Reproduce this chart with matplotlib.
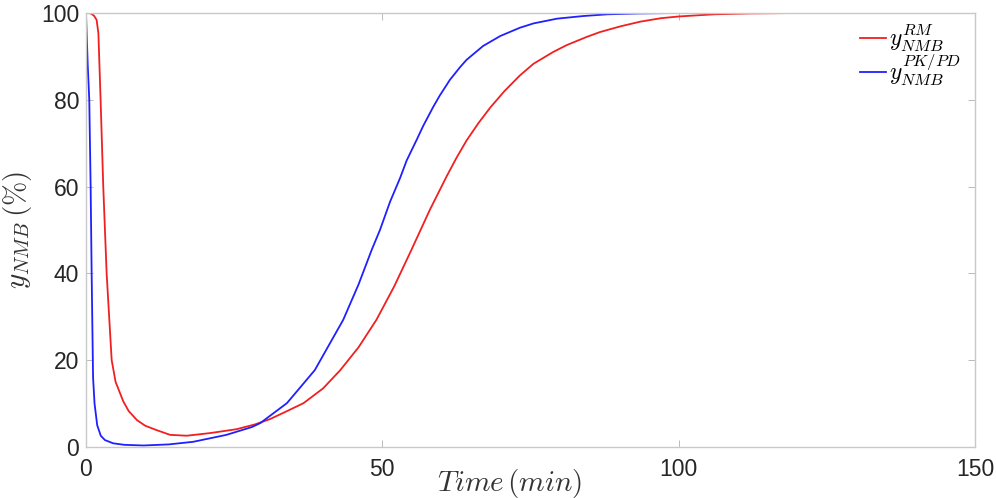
import matplotlib
matplotlib.use('Agg')
import matplotlib.pyplot as plt

# values
t_rm = [0, 0.5, 0.96, 1.4, 1.8, 2.1, 2.47, 2.92, 3.49, 4.34, 5.0, 6.3, 7.2,
        8.6, 10.0, 11.9, 14.2, 17.0, 20.9, 25.4, 28.5, 31.0, 33.5, 36.7,
        40.0, 42.9, 46.0, 49.0, 52.0, 54.9, 58.0, 60.9, 62.5, 64.2, 66.2,
        68.2, 70.6, 73.2, 75.5, 78.8, 81.1, 84.5, 86.7, 90.1, 93.5, 97.0,
        100.0, 106.0, 112.0, 120.0, 150.0]
y_rm = [100, 100, 99.8, 99.3, 98.4, 95.3, 80, 60, 40, 20, 15, 10.5, 8.3,
        6.2, 4.9, 3.9, 2.8, 2.6, 3.2, 4.1, 5.2, 6.4, 8.0, 10.1,
        13.5, 17.7, 23.0, 29.3, 37.0, 45.4, 54.6, 62.5, 66.6, 70.6, 74.6,
        78.2, 82.0, 85.6, 88.3, 91.0, 92.6, 94.5, 95.6, 96.9, 98.0, 98.8,
        99.2, 99.7, 99.9, 100, 100]

t_pkpd = [0, 0.3, 0.56, 0.79, 0.96, 1.2, 1.45, 1.9, 2.5, 3.2, 4.6, 6.5,
          9.7, 14.0, 18.1, 23.7, 28.0, 29.4, 33.9, 38.6, 43.4, 46.0, 48.2,
          49.6, 51.3, 53.0, 54.1, 55.8, 56.9, 58.6, 59.7, 61.4, 63.1, 64.2,
          67.0, 69.9, 73.2, 75.5, 79.5, 83.9, 88.0, 93.5, 100.0, 150.0]
y_pkpd = [100, 88, 80, 60, 40, 16, 10, 5, 2.6, 1.6, 0.85, 0.5,
          0.35, 0.6, 1.2, 2.8, 4.6, 5.5, 10.1, 17.7, 29.3, 37.5, 45.4,
          50.0, 56.5, 62.0, 66.0, 70.8, 74.0, 78.4, 81.0, 84.6, 87.5, 89.2,
          92.4, 94.7, 96.6, 97.6, 98.7, 99.3, 99.7, 99.9, 100, 100]

x_ticks = [0, 50, 100, 150]
y_ticks = [0, 20, 40, 60, 80, 100]

plt.rcParams['mathtext.fontset'] = 'cm'
plt.rcParams['font.family'] = ['Liberation Sans', 'DejaVu Sans']

fig = plt.figure(figsize=(9.96, 4.98), dpi=100)
ax = fig.add_axes([0.0863, 0.1024, 0.8927, 0.8715])

ax.plot(t_rm, y_rm, color='#f02020', lw=1.3, label=r'$y_{NMB}^{RM}$')
ax.plot(t_pkpd, y_pkpd, color='#2020ff', lw=1.3, label=r'$y_{NMB}^{PK/PD}$')

ax.set_xlim(0, 150)
ax.set_ylim(0, 100)
ax.set_xticks(x_ticks)
ax.set_yticks(y_ticks)
ax.tick_params(direction='in', length=5, width=0.6, color='#b0b0b0',
               labelsize=16.5, labelcolor='#262626', top=True, right=True)
ax.tick_params(axis='x', pad=8)
ax.tick_params(axis='y', pad=5)
for s in ax.spines.values():
    s.set_color('#c8c8c8')
    s.set_linewidth(1.0)

ax.set_xlabel(r'$Time\,(min)$', fontsize=21, color='#333333', va='center')
ax.xaxis.set_label_coords(0.476, -0.083)
ax.set_ylabel(r'$y_{NMB}\,(\%)$', fontsize=21, color='#333333', va='center')
ax.yaxis.set_label_coords(-0.077, 0.5)

ax.legend(loc='upper right', frameon=False, fontsize=17, handlelength=1.1,
          handletextpad=0.15, labelspacing=-0.1, borderaxespad=0.0,
          bbox_to_anchor=(0.995, 1.0))

fig.savefig('out.png', dpi=100)
